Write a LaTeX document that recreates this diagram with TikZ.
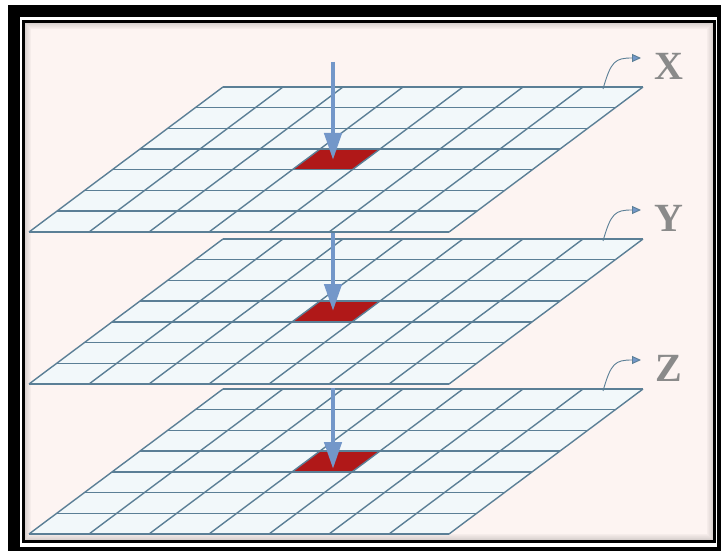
\documentclass[tikz,border=0pt]{standalone}
\usepackage{fontspec}
\newfontfamily\labelfont{Liberation Serif}
\usetikzlibrary{arrows.meta}
\definecolor{paper}{HTML}{FDF4F2}
\definecolor{cellfill}{HTML}{F2F8FA}
\definecolor{gridblue}{HTML}{5B7F96}
\definecolor{hitred}{HTML}{B01818}
\definecolor{dropblue}{HTML}{7397C9}
\definecolor{labgray}{HTML}{8A8A8A}

\begin{document}
\begin{tikzpicture}[
    x=1pt, y=-1pt,
    gridline/.style={draw=gridblue, line width=1.4pt},
    plane/.style={fill=cellfill},
    hitcell/.style={fill=hitred},
    droparrow/.style={-{Triangle[width=17pt, length=27pt]}, draw=dropblue, line width=4.5pt},
    labelarrow/.style={-{Triangle[width=8pt, length=9pt, fill=dropblue]}, draw=gridblue, line width=0.9pt},
    axislabel/.style={font=\labelfont\bfseries\fontsize{40}{40}\selectfont, text=labgray, inner sep=0pt},
]
\useasboundingbox (0,0) rectangle (722,553);

% Frame
\fill[white] (0,0) rectangle (722,553);
\fill[black] (8,5) rectangle (721,551);
\fill[white] (20,17) rectangle (717,547);
\fill[black] (22,20) rectangle (716,543);
\fill[paper] (25,23) rectangle (713,540);
\foreach \k in {0,...,5}
  \draw[black, opacity={0.14-0.022*\k}, line width=1.2pt] (25.6+\k,23.6+\k) rectangle (712.4-\k,539.4-\k);

% Layers
\foreach \lab/\ty/\as/\ae in {X/87/62/160, Y/239/233/311, Z/389/388/469} {
  \begin{scope}[shift={(223,\ty)}]
    \fill[plane] (0,0) -- (420,0) -- (226,145) -- (-194,145) -- cycle;
    % hit cell (row 3, column 3)
    \fill[hitcell] (96.9,62.1) -- (156.9,62.1) -- (129.2,82.8) -- (69.2,82.8) -- cycle;
    \foreach \i in {0,...,7}
      \draw[gridline] (-27.7*\i,20.7*\i) -- ++(420,0);
    \foreach \j in {0,...,7}
      \draw[gridline] (60*\j,0) -- ++(-194,145);
    % label
    \node[axislabel] (lab\lab) at (446,-21) {\lab};
    \coordinate (foot\lab) at (380,2);
    \coordinate (tip\lab) at (418,-29);
    \draw[labelarrow] (foot\lab) .. controls (388,-26) and (392,-29) .. (tip\lab);
  \end{scope}
  % drop arrow
  \coordinate (top\lab) at (333,\as);
  \coordinate (hit\lab) at (333,\ae);
  \draw[droparrow] (top\lab) -- (hit\lab);
}

\end{tikzpicture}
\end{document}
